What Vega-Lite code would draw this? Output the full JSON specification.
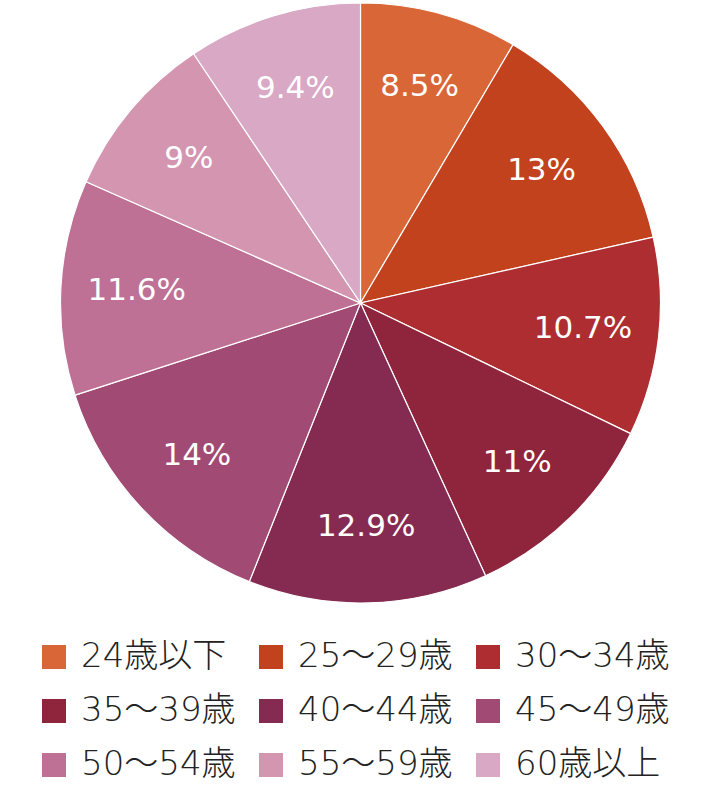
{
  "$schema": "https://vega.github.io/schema/vega-lite/v6.json",
  "width": 721,
  "height": 606,
  "padding": 0,
  "autosize": {"type": "pad"},
  "background": "white",
  "data": {
    "values": [
      {"idx": 1, "group": "24歳以下", "value": 8.5, "label": "8.5%"},
      {"idx": 2, "group": "25〜29歳", "value": 13, "label": "13%"},
      {"idx": 3, "group": "30〜34歳", "value": 10.7, "label": "10.7%"},
      {"idx": 4, "group": "35〜39歳", "value": 11, "label": "11%"},
      {"idx": 5, "group": "40〜44歳", "value": 12.9, "label": "12.9%"},
      {"idx": 6, "group": "45〜49歳", "value": 14, "label": "14%"},
      {"idx": 7, "group": "50〜54歳", "value": 11.6, "label": "11.6%"},
      {"idx": 8, "group": "55〜59歳", "value": 9, "label": "9%"},
      {"idx": 9, "group": "60歳以上", "value": 9.4, "label": "9.4%"}
    ]
  },
  "encoding": {
    "theta": {"field": "value", "type": "quantitative", "stack": true},
    "order": {"field": "idx", "type": "quantitative"},
    "color": {
      "field": "group",
      "type": "nominal",
      "sort": ["24歳以下", "25〜29歳", "30〜34歳", "35〜39歳", "40〜44歳", "45〜49歳", "50〜54歳", "55〜59歳", "60歳以上"],
      "scale": {
        "domain": ["24歳以下", "25〜29歳", "30〜34歳", "35〜39歳", "40〜44歳", "45〜49歳", "50〜54歳", "55〜59歳", "60歳以上"],
        "range": ["#D96636", "#C2421E", "#AD2D30", "#8F253C", "#852B52", "#A04A74", "#BE7095", "#D495B1", "#D8A8C5"]
      },
      "legend": {
        "title": null,
        "orient": "none",
        "legendX": 37,
        "legendY": 640,
        "padding": 0,
        "direction": "horizontal",
        "columns": 3,
        "columnPadding": 18,
        "rowPadding": 20,
        "symbolType": "square",
        "symbolSize": 576,
        "symbolStrokeWidth": 0,
        "symbolOffset": 0,
        "labelOffset": 10,
        "labelFontSize": 34,
        "labelFontWeight": 300,
        "labelFont": "DejaVu Sans, Noto Sans CJK JP",
        "labelColor": "#222222",
        "labelLimit": 300
      }
    }
  },
  "layer": [
    {
      "mark": {"type": "arc", "outerRadius": 300, "stroke": "white", "strokeWidth": 1.2}
    },
    {
      "mark": {"type": "text", "radius": 224, "fontSize": 31, "fontWeight": "normal", "font": "DejaVu Sans", "fill": "white", "align": "center", "baseline": "middle"},
      "encoding": {
        "text": {"field": "label"},
        "color": {"value": "white"}
      }
    }
  ]
}
